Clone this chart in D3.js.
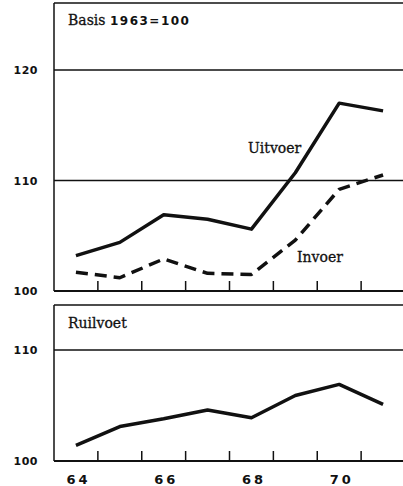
<!DOCTYPE html>
<html>
<head>
<meta charset="utf-8">
<script src="https://cdn.jsdelivr.net/npm/d3@7"></script>
<style>
    body { margin: 0; background: #fff; }
    .num { font-family: "DejaVu Sans"; font-weight: bold; fill: #111; }
    .lbl { font-family: "DejaVu Serif"; fill: #111; stroke: #111; stroke-width: 0.3px; }
</style>
</head>
<body>
<div id="chart"></div>
<script>
var years = [64, 65, 66, 67, 68, 69, 70, 71];
var uitvoer = [103.2, 104.4, 106.9, 106.5, 105.6, 110.7, 117.0, 116.3];
var invoer = [101.7, 101.2, 102.9, 101.6, 101.5, 104.6, 109.2, 110.5];
var ruilvoet = [101.4, 103.1, 103.8, 104.6, 103.9, 105.9, 106.9, 105.1];
var xTickLabels = [64, 66, 68, 70];
var yTicksTop = [100, 110, 120];
var yTicksBottom = [100, 110];

var width = 403, height = 486;
var left = 54;

var svg = d3.select("#chart")
        .append("svg")
        .attr("width", width)
        .attr("height", height);

var x = d3.scaleLinear()
        .domain([63.5, 71.5])
        .range([left, 405]);

var yTop = d3.scaleLinear()
        .domain([100, 120])
        .range([291, 70]);

var yBot = d3.scaleLinear()
        .domain([100, 110])
        .range([461, 350]);

// year boundaries for the little tick marks
var yearEdges = years.slice(0, 7).map(function (d) { return d + 0.5; });

function panel(y, topY, ticks) {
    var g = svg.append("g");

    // frame: top and left
    g.append("line")
            .attr("x1", left).attr("x2", width)
            .attr("y1", topY).attr("y2", topY)
            .style("stroke", "#111").style("stroke-width", "1.5px");
    g.append("line")
            .attr("x1", left).attr("x2", left)
            .attr("y1", topY).attr("y2", y(100))
            .style("stroke", "#111").style("stroke-width", "1.5px");

    // gridlines
    g.selectAll(".grid")
            .data(ticks.slice(1))
            .enter()
            .append("line")
            .attr("class", "grid")
            .attr("x1", left).attr("x2", width)
            .attr("y1", function (d) { return y(d); })
            .attr("y2", function (d) { return y(d); })
            .style("stroke", "#111").style("stroke-width", "1.3px");

    // baseline
    g.append("line")
            .attr("x1", left).attr("x2", width)
            .attr("y1", y(100)).attr("y2", y(100))
            .style("stroke", "#111").style("stroke-width", "2px");

    g.selectAll(".ytick")
            .data(yearEdges)
            .enter()
            .append("line")
            .attr("class", "ytick")
            .attr("x1", function (d) { return x(d); })
            .attr("x2", function (d) { return x(d); })
            .attr("y1", y(100))
            .attr("y2", y(100) - 10)
            .style("stroke", "#111").style("stroke-width", "1.5px");

    var axis = g.append("g")
            .attr("transform", "translate(" + (left - 16) + ",0)")
            .call(d3.axisLeft(y).tickValues(ticks).tickSize(0).tickPadding(0));
    axis.select(".domain").remove();
    axis.selectAll("text")
            .attr("class", "num")
            .style("font-size", "11px")
            .style("letter-spacing", "0.5px")
            .attr("dy", "0.36em");
    return g;
}

panel(yTop, 3, yTicksTop);
panel(yBot, 305, yTicksBottom);

var xAxis = svg.append("g")
        .attr("transform", "translate(0," + yBot(100) + ")")
        .call(d3.axisBottom(x).tickValues(xTickLabels).tickSize(0).tickPadding(0)
                .tickFormat(function (d) { return d; }));
xAxis.select(".domain").remove();
xAxis.selectAll("text")
        .attr("class", "num")
        .attr("y", 23)
        .attr("dy", 0)
        .attr("dx", 2)
        .style("font-size", "13px")
        .style("letter-spacing", "3px");

function drawLine(values, y, dash) {
    var line = d3.line()
            .x(function (d, i) { return x(years[i]); })
            .y(function (d) { return y(d); });
    svg.append("path")
            .datum(values)
            .attr("d", line)
            .style("fill", "none")
            .style("stroke", "#111")
            .style("stroke-width", "3.5px")
            .style("stroke-linejoin", "round")
            .style("stroke-dasharray", dash);
}

drawLine(uitvoer, yTop, null);
drawLine(invoer, yTop, "12,7");
drawLine(ruilvoet, yBot, null);

// labels
var title = svg.append("text")
        .attr("x", 68)
        .attr("y", 25);
title.append("tspan")
        .attr("class", "lbl")
        .style("font-size", "14px")
        .text("Basis ");
title.append("tspan")
        .attr("class", "num")
        .style("font-size", "12px")
        .style("letter-spacing", "1.5px")
        .text("1963=100");

svg.append("text")
        .attr("class", "lbl")
        .attr("x", 248)
        .attr("y", 153)
        .style("font-size", "14px")
        .text("Uitvoer");

svg.append("text")
        .attr("class", "lbl")
        .attr("x", 297)
        .attr("y", 262)
        .style("font-size", "14px")
        .text("Invoer");

svg.append("text")
        .attr("class", "lbl")
        .attr("x", 68)
        .attr("y", 328)
        .style("font-size", "14px")
        .text("Ruilvoet");
</script>
</body>
</html>
